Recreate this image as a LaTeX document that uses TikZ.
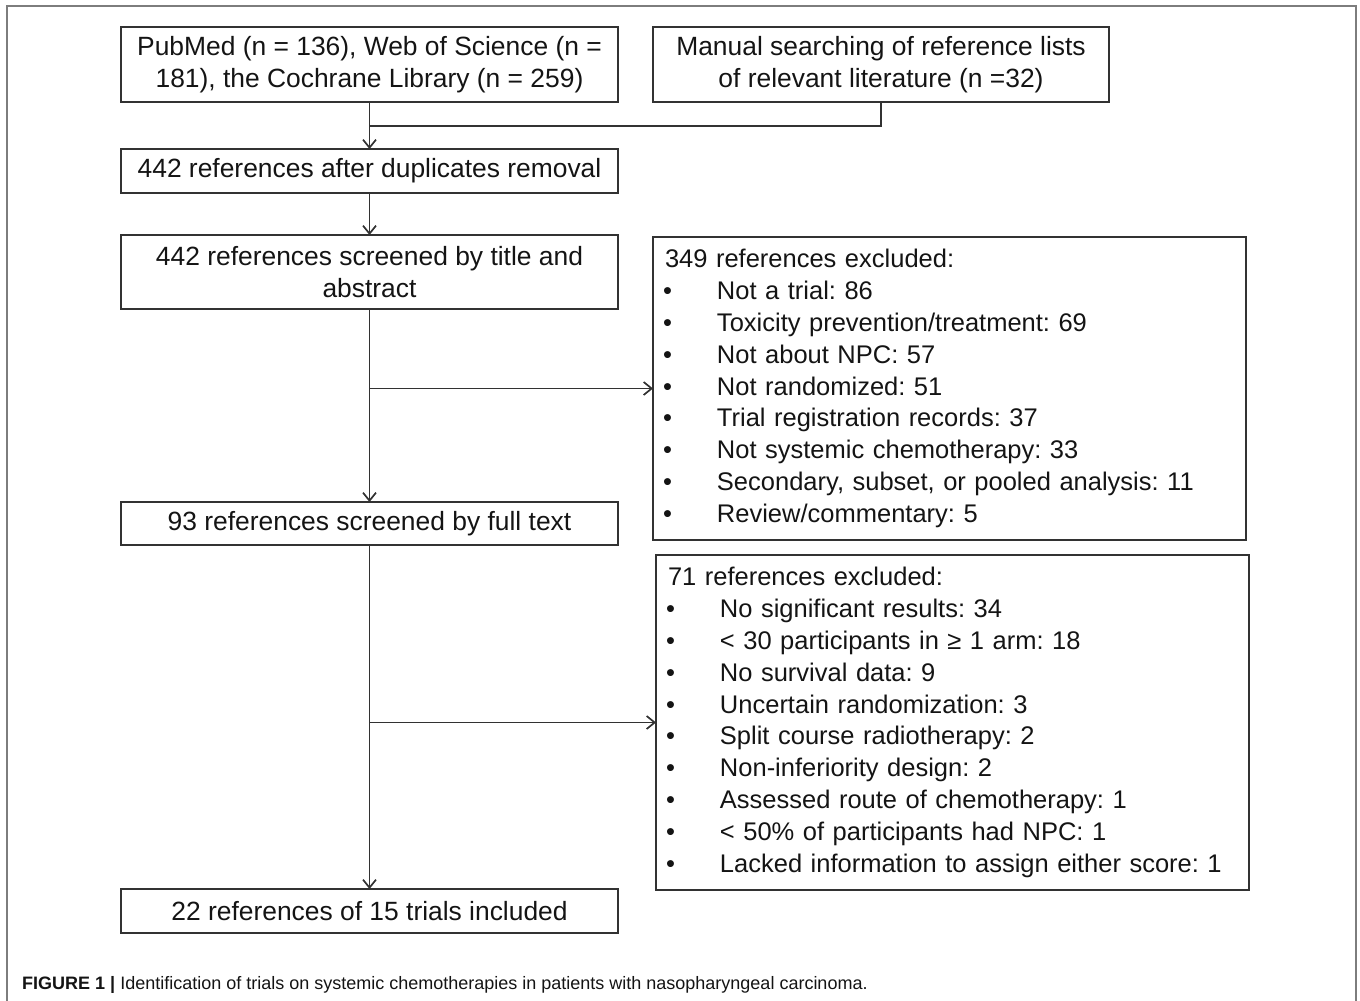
\documentclass[tikz,border=0pt]{standalone}
\usepackage{fontspec}
\setmainfont{Liberation Sans}
\usepackage{tikz}
\usetikzlibrary{positioning,arrows.meta}
\definecolor{fcline}{RGB}{50,50,50}
\definecolor{fcframe}{RGB}{125,125,125}
\definecolor{fctext}{RGB}{20,20,20}
\newcommand{\mainfs}{\fontsize{26.4}{31.8}\selectfont}
\newcommand{\listfs}{\fontsize{25.5}{31.8}\selectfont}
\newcommand{\capfs}{\fontsize{18}{21}\selectfont}
\newcommand{\exitem}[1]{\hspace*{-2pt}\makebox[54pt][l]{\textbullet}#1}
\frenchspacing
\tikzset{
  box/.style={draw=fcline, line width=1.8pt, minimum width=497pt, outer sep=0pt,
              align=center, inner sep=0pt, font=\mainfs, text=fctext},
  list/.style={draw=fcline, line width=1.8pt, text width=569pt, outer sep=0pt,
               align=left, inner xsep=12pt, inner ysep=0pt,
               font=\listfs, text=fctext},
  line/.style={line width=1.7pt, draw=fcline},
  arr/.style={line, -{Straight Barb[length=8pt,width=13pt]}},
  frame/.style={line width=2pt, draw=fcframe},
  caption/.style={font=\capfs, text=fctext, inner sep=0pt},
}
\begin{document}
\begin{tikzpicture}[x=1pt, y=-1pt, node distance=47pt and 35pt]
\useasboundingbox (0,0) rectangle (1360,1001);
\draw[frame] (7,1012) -- (7,6) -- (1356,6) -- (1356,1012);
% left column
\node[box, minimum height=75pt] (src) at (369.5,64.5)
  {PubMed (n = 136), Web of Science (n =\\181), the Cochrane Library (n = 259)};
\node[box, minimum width=456pt, minimum height=75pt, right=35pt of src] (man)
  {Manual searching of reference lists\\of relevant literature (n =32)};
\node[box, minimum height=44pt, below=47pt of src] (dup)
  {442 references after duplicates removal};
\node[box, minimum height=74pt, below=42pt of dup] (tia)
  {442 references screened by title and\\abstract};
\node[box, minimum height=43pt, below=193pt of tia] (full)
  {93 references screened by full text};
\node[box, minimum height=44pt, below=344pt of full] (incl)
  {22 references of 15 trials included};
% exclusion boxes
\node[list, minimum height=303pt, anchor=north west] (exa)
  at ([xshift=35pt,yshift=-2pt]tia.north east)
  {349 references excluded:\\
   \exitem{Not a trial: 86}\\
   \exitem{Toxicity prevention/treatment: 69}\\
   \exitem{Not about NPC: 57}\\
   \exitem{Not randomized: 51}\\
   \exitem{Trial registration records: 37}\\
   \exitem{Not systemic chemotherapy: 33}\\
   \exitem{Secondary, subset, or pooled analysis: 11}\\
   \exitem{Review/commentary: 5}};
\node[list, minimum height=335pt, anchor=north west] (exb)
  at ([xshift=38pt,yshift=-10pt]full.south east)
  {71 references excluded:\\
   \exitem{No significant results: 34}\\
   \exitem{< 30 participants in ≥ 1 arm: 18}\\
   \exitem{No survival data: 9}\\
   \exitem{Uncertain randomization: 3}\\
   \exitem{Split course radiotherapy: 2}\\
   \exitem{Non-inferiority design: 2}\\
   \exitem{Assessed route of chemotherapy: 1}\\
   \exitem{< 50\% of participants had NPC: 1}\\
   \exitem{Lacked information to assign either score: 1}};
% connectors
\coordinate (join) at ([yshift=-24pt]src.south);
\draw[line] (man.south) |- (join);
\draw[arr] (src) -- (dup);
\draw[arr] (dup) -- (tia);
\draw[arr] (tia) -- (full);
\draw[arr] (tia.south |- exa.west) -- (exa.west);
\draw[arr] (full) -- (incl);
\draw[arr] (full.south |- exb.west) -- (exb.west);
\node[caption, anchor=west] (cap) at (22,985)
  {\textbf{FIGURE 1} \textbf{|} Identification of trials on systemic chemotherapies in patients with nasopharyngeal carcinoma.};
\end{tikzpicture}
\end{document}
